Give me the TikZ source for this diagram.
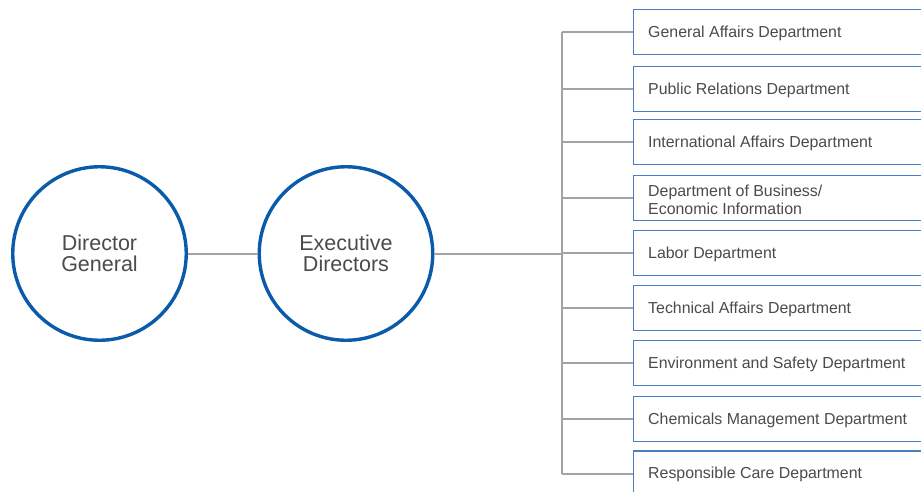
\documentclass[tikz,border=0pt]{standalone}
\usepackage{fontspec}
\setmainfont{Liberation Sans}
\definecolor{circblue}{HTML}{0A5BAA}
\definecolor{boxblue}{HTML}{4A7EC4}
\definecolor{linegray}{HTML}{A3A3A3}
\definecolor{txtgray}{HTML}{4D4A48}
\tikzset{
  headcircle/.style={circle, draw=circblue, line width=3.4pt, minimum size=173.5pt, inner sep=0pt,
    text=txtgray, align=center, font=\fontsize{21.5}{21}\selectfont},
  deptbox/.style={draw=boxblue, line width=1.3pt, minimum width=300pt, minimum height=45pt,
    anchor=west, inner sep=0pt, text=txtgray},
  depttext/.style={anchor=west, text=txtgray, align=left, inner sep=0pt,
    font=\fontsize{15.9}{18.3}\selectfont},
  link/.style={draw=linegray, line width=2pt},
}
\begin{document}
\begin{tikzpicture}[x=1pt,y=-1pt]
\useasboundingbox (0,0) rectangle (921,491);
\clip (0,0) rectangle (921,491);
\node[headcircle] (dg) at (99.5,253.5) {Director\\General};
\node[headcircle] (ed) at (346,253.5) {Executive\\Directors};
\coordinate (ttop) at (562,32.2);
\coordinate (tmid) at (562,253.5);
\coordinate (tbot) at (562,473.5);
\foreach \n/\y/\t in {
  b1/31.7/{General Affairs Department},
  b2/88.7/{Public Relations Department},
  b3/142.3/{International Affairs Department},
  b4/198.3/{Department of Business/\\Economic Information},
  b5/253.3/{Labor Department},
  b6/308.3/{Technical Affairs Department},
  b7/363.3/{Environment and Safety Department},
  b8/418.7/{Chemicals Management Department},
  b9/473.5/{Responsible Care Department}}{
  \node[deptbox] (\n) at (633,\y) {};
  \node[depttext] (\n t) at ([xshift=15pt,yshift=-1.2pt]\n.west) {\t};
  \draw[link] (\n.west -| ttop) -- (\n.west);
}
\draw[link] (ttop) -- (tbot);
\draw[link] (dg.east) -- (ed.west);
\draw[link] (ed.east) -- (tmid);
\end{tikzpicture}
\end{document}
